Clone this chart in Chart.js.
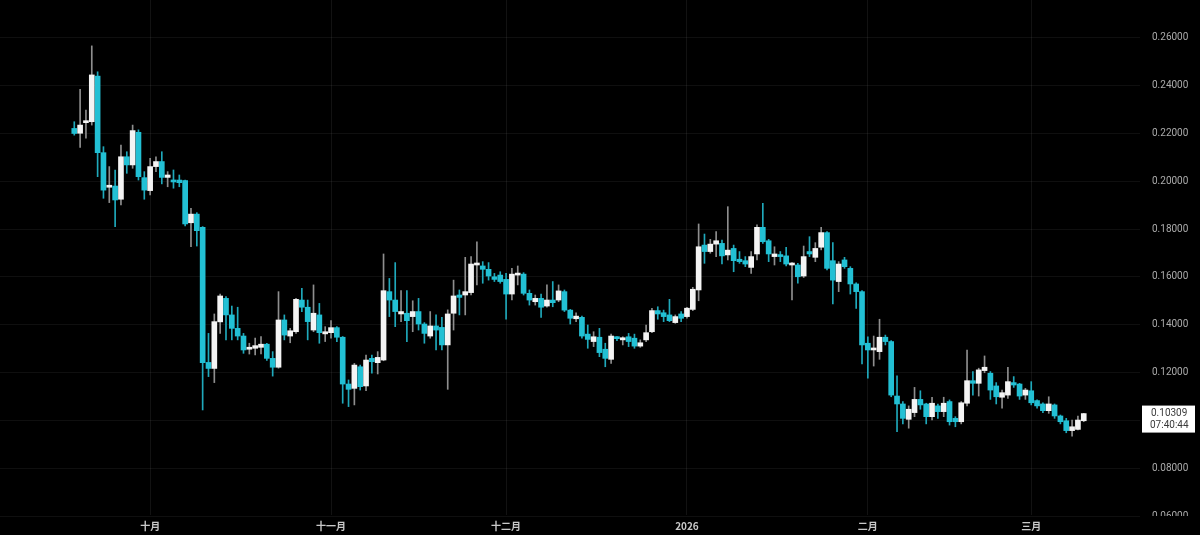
<!DOCTYPE html>
<html>
<head>
<meta charset="utf-8">
<script src="https://cdn.jsdelivr.net/npm/chart.js@4.4.1/dist/chart.umd.min.js"></script>
<style>
    html, body { margin: 0; padding: 0; background: #000; }
    #wrap { width: 1200px; height: 535px; }
</style>
</head>
<body>
<div id="wrap"><canvas id="priceChart" width="1200" height="535"></canvas></div>
<script>
// daily candles, 18 Sep -> 10 Mar
const opens = [
    0.2219, 0.2199, 0.2243, 0.2247, 0.2437, 0.2118, 0.1974, 0.1979, 0.1924, 0.2101,
    0.2067, 0.2203, 0.2014, 0.1960, 0.2060, 0.2081, 0.2015, 0.2004, 0.2004, 0.2002,
    0.1826, 0.1862, 0.1807, 0.1244, 0.1219, 0.1413, 0.1511, 0.1442, 0.1386, 0.1354,
    0.1299, 0.1303, 0.1307, 0.1320, 0.1261, 0.1224, 0.1421, 0.1354, 0.1372, 0.1504,
    0.1474, 0.1379, 0.1442, 0.1363, 0.1368, 0.1389, 0.1349, 0.1154, 0.1136, 0.1226,
    0.1146, 0.1261, 0.1243, 0.1254, 0.1539, 0.1504, 0.1446, 0.1449, 0.1435, 0.1456,
    0.1404, 0.1354, 0.1396, 0.1390, 0.1317, 0.1449, 0.1525, 0.1525, 0.1535, 0.1650,
    0.1646, 0.1632, 0.1601, 0.1608, 0.1590, 0.1529, 0.1608, 0.1612, 0.1532, 0.1497,
    0.1511, 0.1479, 0.1504, 0.1504, 0.1539, 0.1462, 0.1426, 0.1432, 0.1362, 0.1331,
    0.1349, 0.1299, 0.1257, 0.1351, 0.1338, 0.1351, 0.1345, 0.1312, 0.1338, 0.1372,
    0.1460, 0.1451, 0.1442, 0.1410, 0.1446, 0.1435, 0.1465, 0.1546, 0.1733, 0.1706,
    0.1737, 0.1740, 0.1692, 0.1719, 0.1674, 0.1668, 0.1640, 0.1696, 0.1807, 0.1751,
    0.1685, 0.1692, 0.1688, 0.1650, 0.1650, 0.1604, 0.1706, 0.1682, 0.1724, 0.1785,
    0.1668, 0.1581, 0.1671, 0.1636, 0.1571, 0.1539, 0.1324, 0.1296, 0.1289, 0.1349,
    0.1331, 0.1104, 0.1071, 0.1007, 0.1035, 0.1090, 0.1071, 0.1018, 0.1063, 0.1039,
    0.1081, 0.1011, 0.0997, 0.1074, 0.1168, 0.1157, 0.1210, 0.1199, 0.1146, 0.1099,
    0.1108, 0.1160, 0.1154, 0.1108, 0.1126, 0.1085, 0.1071, 0.1043, 0.1067, 0.1021,
    0.1001, 0.0960, 0.0965, 0.1001
];
const highs = [
    0.2247, 0.2382, 0.2296, 0.2563, 0.2455, 0.2143, 0.2060, 0.2046, 0.2150, 0.2122,
    0.2233, 0.2213, 0.2039, 0.2094, 0.2101, 0.2122, 0.2039, 0.2046, 0.2025, 0.2004,
    0.1886, 0.1868, 0.1810, 0.1365, 0.1446, 0.1529, 0.1518, 0.1479, 0.1474, 0.1365,
    0.1324, 0.1345, 0.1352, 0.1324, 0.1289, 0.1539, 0.1442, 0.1386, 0.1511, 0.1553,
    0.1504, 0.1567, 0.1490, 0.1393, 0.1418, 0.1393, 0.1352, 0.1171, 0.1240, 0.1233,
    0.1275, 0.1275, 0.1289, 0.1696, 0.1594, 0.1660, 0.1543, 0.1543, 0.1501, 0.1511,
    0.1410, 0.1456, 0.1442, 0.1432, 0.1463, 0.1587, 0.1546, 0.1682, 0.1685, 0.1747,
    0.1664, 0.1660, 0.1615, 0.1622, 0.1615, 0.1636, 0.1646, 0.1618, 0.1546, 0.1525,
    0.1529, 0.1567, 0.1581, 0.1567, 0.1546, 0.1465, 0.1451, 0.1437, 0.1400, 0.1372,
    0.1386, 0.1324, 0.1362, 0.1352, 0.1351, 0.1365, 0.1362, 0.1338, 0.1400, 0.1469,
    0.1476, 0.1462, 0.1507, 0.1442, 0.1456, 0.1474, 0.1557, 0.1821, 0.1779, 0.1757,
    0.1789, 0.1754, 0.1893, 0.1733, 0.1706, 0.1685, 0.1706, 0.1817, 0.1907, 0.1757,
    0.1726, 0.1706, 0.1724, 0.1660, 0.1657, 0.1729, 0.1768, 0.1743, 0.1807, 0.1789,
    0.1743, 0.1664, 0.1682, 0.1643, 0.1576, 0.1543, 0.1351, 0.1354, 0.1424, 0.1358,
    0.1335, 0.1188, 0.1081, 0.1063, 0.1140, 0.1126, 0.1074, 0.1099, 0.1071, 0.1099,
    0.1088, 0.1018, 0.1081, 0.1296, 0.1206, 0.1220, 0.1271, 0.1206, 0.1160, 0.1129,
    0.1224, 0.1185, 0.1157, 0.1136, 0.1164, 0.1088, 0.1076, 0.1101, 0.1071, 0.1025,
    0.1011, 0.1004, 0.1021, 0.1032
];
const lows = [
    0.2191, 0.2140, 0.2178, 0.2233, 0.2018, 0.1928, 0.1910, 0.1810, 0.1900, 0.2032,
    0.2053, 0.2004, 0.1924, 0.1942, 0.2039, 0.1988, 0.1976, 0.1970, 0.1976, 0.1813,
    0.1726, 0.1729, 0.1046, 0.1185, 0.1160, 0.1365, 0.1338, 0.1338, 0.1338, 0.1282,
    0.1279, 0.1275, 0.1279, 0.1252, 0.1187, 0.1220, 0.1338, 0.1326, 0.1365, 0.1456,
    0.1338, 0.1372, 0.1324, 0.1331, 0.1345, 0.1331, 0.1074, 0.1060, 0.1067, 0.1129,
    0.1126, 0.1199, 0.1196, 0.1251, 0.1435, 0.1393, 0.1414, 0.1331, 0.1372, 0.1379,
    0.1324, 0.1345, 0.1296, 0.1296, 0.1132, 0.1379, 0.1442, 0.1442, 0.1525, 0.1567,
    0.1574, 0.1587, 0.1581, 0.1574, 0.1424, 0.1504, 0.1567, 0.1525, 0.1483, 0.1483,
    0.1432, 0.1474, 0.1476, 0.1497, 0.1456, 0.1404, 0.1414, 0.1345, 0.1303, 0.1310,
    0.1268, 0.1226, 0.1240, 0.1335, 0.1317, 0.1310, 0.1303, 0.1307, 0.1331, 0.1368,
    0.1424, 0.1414, 0.1414, 0.1407, 0.1414, 0.1428, 0.1460, 0.1501, 0.1657, 0.1699,
    0.1685, 0.1654, 0.1671, 0.1622, 0.1657, 0.1643, 0.1615, 0.1671, 0.1740, 0.1664,
    0.1650, 0.1664, 0.1646, 0.1504, 0.1574, 0.1598, 0.1685, 0.1664, 0.1713, 0.1629,
    0.1488, 0.1539, 0.1636, 0.1529, 0.1469, 0.1238, 0.1178, 0.1229, 0.1257, 0.1317,
    0.1101, 0.0956, 0.0988, 0.0970, 0.1018, 0.1049, 0.0988, 0.1004, 0.1011, 0.1018,
    0.0983, 0.0976, 0.0988, 0.1063, 0.1108, 0.1104, 0.1201, 0.1090, 0.1071, 0.1053,
    0.1094, 0.1140, 0.1090, 0.1090, 0.1067, 0.1053, 0.1035, 0.1032, 0.1011, 0.0988,
    0.0951, 0.0937, 0.0963, 0.0997
];
const closes = [
    0.2198, 0.2233, 0.2250, 0.2442, 0.2118, 0.1962, 0.1982, 0.1921, 0.2101, 0.2067,
    0.2210, 0.2018, 0.1962, 0.2060, 0.2081, 0.2015, 0.2025, 0.1996, 0.1993, 0.1821,
    0.1862, 0.1793, 0.1243, 0.1219, 0.1414, 0.1521, 0.1442, 0.1386, 0.1354, 0.1296,
    0.1307, 0.1314, 0.1320, 0.1261, 0.1224, 0.1421, 0.1358, 0.1376, 0.1507, 0.1474,
    0.1414, 0.1449, 0.1368, 0.1372, 0.1389, 0.1349, 0.1154, 0.1132, 0.1233, 0.1143,
    0.1254, 0.1247, 0.1265, 0.1543, 0.1504, 0.1456, 0.1456, 0.1418, 0.1456, 0.1404,
    0.1365, 0.1396, 0.1379, 0.1317, 0.1446, 0.1521, 0.1515, 0.1539, 0.1654, 0.1654,
    0.1632, 0.1604, 0.1590, 0.1581, 0.1529, 0.1612, 0.1612, 0.1532, 0.1504, 0.1511,
    0.1474, 0.1504, 0.1493, 0.1542, 0.1462, 0.1428, 0.1437, 0.1354, 0.1340, 0.1351,
    0.1285, 0.1261, 0.1354, 0.1343, 0.1347, 0.1331, 0.1312, 0.1326, 0.1368, 0.1460,
    0.1446, 0.1435, 0.1418, 0.1435, 0.1428, 0.1470, 0.1549, 0.1726, 0.1706, 0.1737,
    0.1751, 0.1688, 0.1712, 0.1668, 0.1664, 0.1654, 0.1685, 0.1807, 0.1747, 0.1696,
    0.1696, 0.1685, 0.1654, 0.1657, 0.1601, 0.1685, 0.1696, 0.1719, 0.1785, 0.1636,
    0.1587, 0.1654, 0.1643, 0.1571, 0.1539, 0.1317, 0.1296, 0.1303, 0.1349, 0.1331,
    0.1108, 0.1071, 0.1011, 0.1049, 0.1090, 0.1067, 0.1018, 0.1074, 0.1039, 0.1074,
    0.0997, 0.0997, 0.1076, 0.1168, 0.1157, 0.1213, 0.1224, 0.1129, 0.1101, 0.1118,
    0.1164, 0.1150, 0.1104, 0.1129, 0.1076, 0.1063, 0.1043, 0.1071, 0.1021, 0.0997,
    0.0960, 0.0976, 0.1004, 0.10309
];

// first-of-month candle index and label
const monthTicks = [13, 44, 74, 105, 136, 164];
const monthLabels = ['十月', '十一月', '十二月', '2026', '二月', '三月'];
const priceTicks = [0.26, 0.24, 0.22, 0.20, 0.18, 0.16, 0.14, 0.12, 0.10, 0.08, 0.06];
const lastTime = '07:40:44';

const UP = '#f4f4f4';
const DOWN = '#22c0d4';
const UP_WICK = '#8e8e8e';
const DOWN_WICK = '#1fa9bb';

const isUp = opens.map((o, i) => closes[i] >= o);

const bodies = opens.map((o, i) => ({ x: i, y: [Math.min(o, closes[i]), Math.max(o, closes[i])] }));
const wicks = lows.map((l, i) => ({ x: i, y: [l, highs[i]] }));

// background + last price label
const extras = {
    id: 'extras',
    beforeDraw(chart) {
        const c = chart.ctx;
        c.save();
        c.fillStyle = '#000';
        c.fillRect(0, 0, chart.width, chart.height);
        c.restore();
    },
    afterDraw(chart) {
        const c = chart.ctx;
        const y = chart.scales.y;
        const area = chart.chartArea;
        c.save();
        // time axis strip hides the lower half of the last price tick
        c.fillStyle = '#000';
        c.fillRect(area.right, area.bottom + 1, chart.width - area.right, chart.height - area.bottom);

        const last = closes[closes.length - 1];
        const py = y.getPixelForValue(last);
        const bx = area.right + 2, bw = 53, bh = 27;
        c.fillStyle = '#ffffff';
        c.fillRect(bx, py - 8, bw, bh);
        c.fillStyle = '#3a3a3a';
        c.font = '10px Roboto';
        c.textBaseline = 'middle';
        c.textAlign = 'left';
        c.fillText(last.toFixed(5), bx + 9, py);
        c.fillText(lastTime, bx + 8, py + 12);
        c.restore();
    }
};

const ctx = document.getElementById('priceChart').getContext('2d');

new Chart(ctx, {
    type: 'bar',
    data: {
        datasets: [
            {
                label: 'body',
                data: bodies,
                backgroundColor: isUp.map(u => u ? UP : DOWN),
                barThickness: 5,
                minBarLength: 2,
                borderWidth: 0,
                grouped: false,
                order: 0
            },
            {
                label: 'wick',
                data: wicks,
                backgroundColor: isUp.map(u => u ? UP_WICK : DOWN_WICK),
                barThickness: 1,
                borderWidth: 0,
                grouped: false,
                order: 1
            }
        ]
    },
    options: {
        responsive: false,
        animation: false,
        layout: { padding: 0 },
        plugins: {
            legend: { display: false },
            tooltip: { enabled: false }
        },
        scales: {
            x: {
                type: 'linear',
                min: -12.73,
                max: 182.64,
                offset: false,
                grid: { color: 'rgba(255,255,255,0.07)', drawTicks: false, offset: false },
                border: { display: false },
                afterBuildTicks: s => { s.ticks = monthTicks.map(v => ({ value: v })); },
                afterFit: s => {
                    s.height = 20;
                    s.paddingLeft = 0;
                    s.paddingRight = 0;
                },
                ticks: {
                    autoSkip: false,
                    maxRotation: 0,
                    padding: 5,
                    color: '#c9c9c9',
                    font: { family: 'Noto Sans CJK SC', size: 10, weight: 'bold' },
                    callback: v => monthLabels[monthTicks.indexOf(v)]
                }
            },
            y: {
                type: 'linear',
                position: 'right',
                min: 0.060833,
                max: 0.275417,
                grid: { color: 'rgba(255,255,255,0.06)', drawTicks: false },
                border: { display: false },
                afterBuildTicks: s => { s.ticks = priceTicks.map(v => ({ value: v })); },
                afterFit: s => {
                    s.width = 60;
                    s.paddingTop = 0;
                    s.paddingBottom = 0;
                },
                ticks: {
                    padding: 12,
                    color: '#ababab',
                    font: { family: 'Roboto', size: 10 },
                    callback: v => Number(v).toFixed(5)
                }
            }
        }
    },
    plugins: [extras]
});
</script>
</body>
</html>
